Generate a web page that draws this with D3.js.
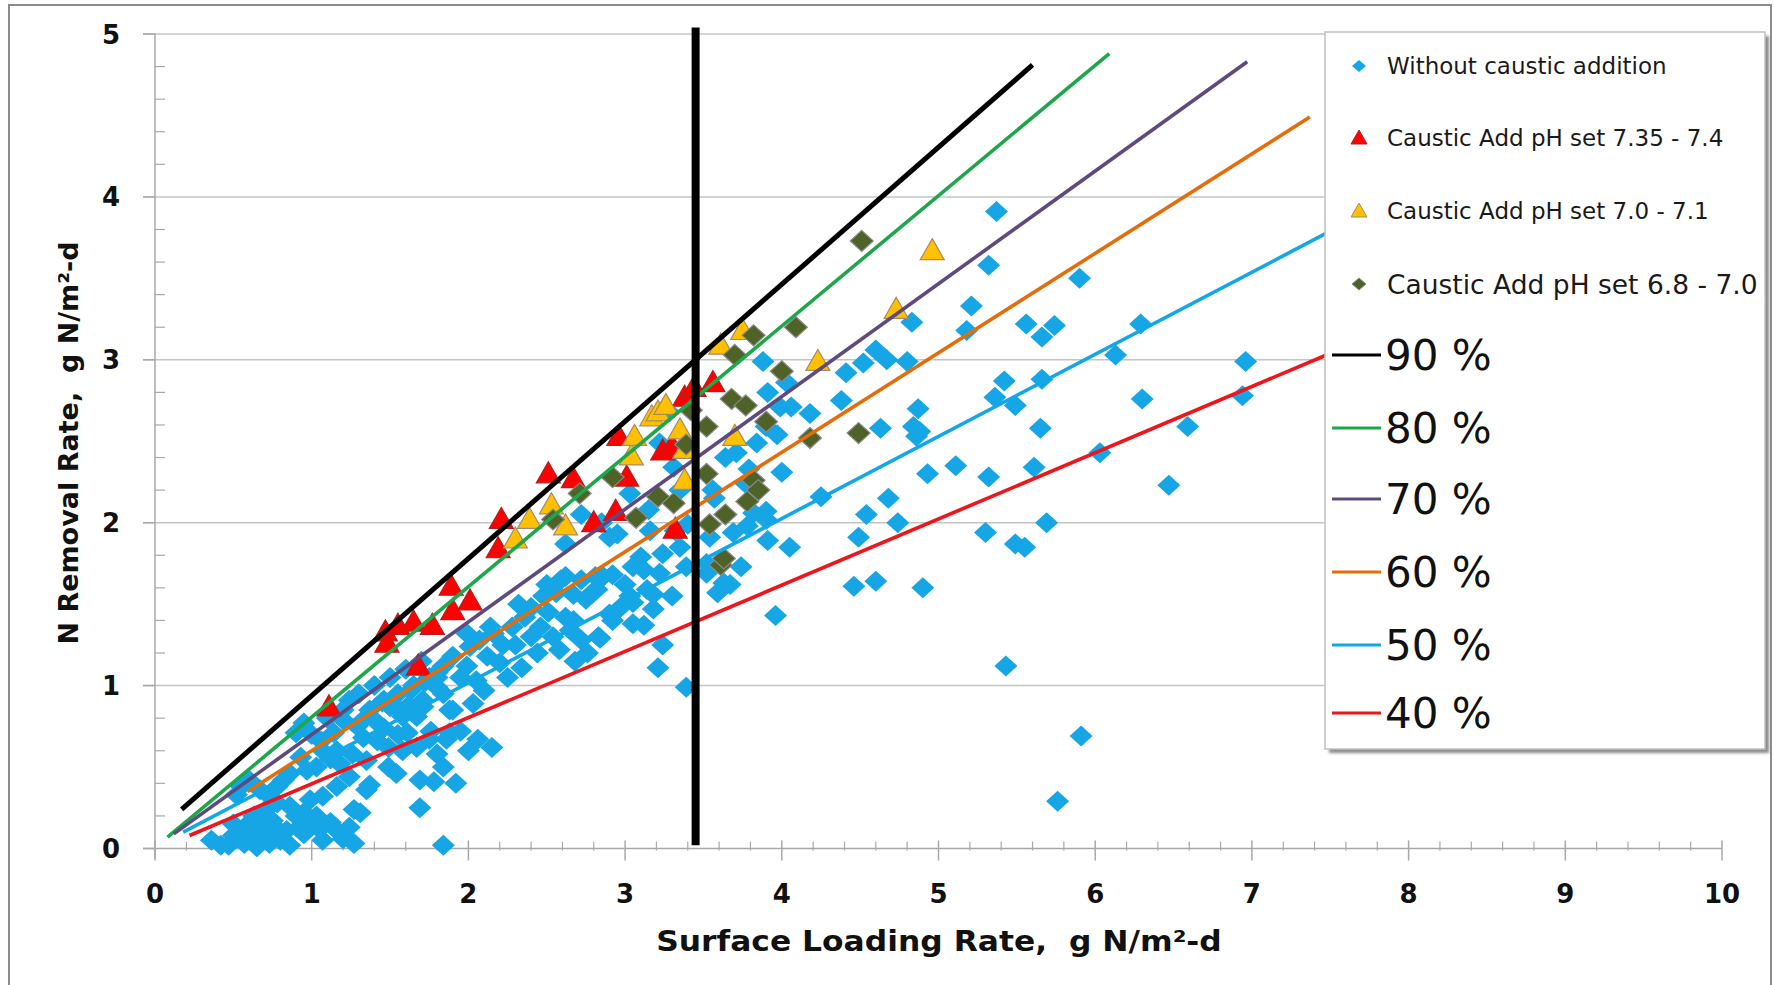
<!DOCTYPE html>
<meta charset="utf-8">
<head>
<style>
body { margin: 0; background: #fff; }
.grid line { stroke: #c4c4c4; stroke-width: 1.5px; }
.tick-label { font-family: "DejaVu Sans", Verdana, sans-serif; font-weight: bold; font-size: 26px; fill: #111; }
.axis-title { font-family: "DejaVu Sans", Verdana, sans-serif; font-weight: bold; fill: #111; white-space: pre; }
.leg-small { font-family: "DejaVu Sans", Verdana, sans-serif; fill: #1a1a1a; }
.leg-big { font-family: "DejaVu Sans", Verdana, sans-serif; font-size: 42px; fill: #111; }
</style>
<script src="https://d3js.org/d3.v7.min.js"></script>
<title>N removal vs surface loading</title>
</head>
<body>
<script>

// ---- data ----
var xTicks = [0, 1, 2, 3, 4, 5, 6, 7, 8, 9, 10];
var yTicks = [0, 1, 2, 3, 4, 5];

var xTitle = "Surface Loading Rate,  g N/m\u00b2-d";
var yTitle = "N Removal Rate,  g N/m\u00b2-d";

// Without caustic addition
var blueData = [
  [0.36,0.05],[0.42,0.02],[0.47,0.02],[0.50,0.08],[0.54,0.07],[0.57,0.03],[0.61,0.11],[0.63,0.04],[0.65,0.01],[0.68,0.07],
  [0.71,0.09],[0.73,0.03],[0.75,0.17],[0.78,0.12],[0.80,0.05],[0.84,0.11],[0.86,0.02],[0.90,0.20],[0.92,0.13],[0.95,0.09],
  [0.98,0.16],[1.03,0.20],[1.05,0.12],[1.07,0.05],[1.12,0.16],[1.16,0.11],[1.20,0.06],[1.24,0.13],[1.27,0.03],[1.31,0.22],
  [1.27,0.24],[0.50,0.15],[0.58,0.14],[0.63,0.20],[0.67,0.16],[0.71,0.24],[0.78,0.28],[0.86,0.26],[0.95,0.22],[0.99,0.30],
  [1.07,0.32],[1.16,0.38],[1.24,0.44],[1.35,0.36],[1.37,0.39],[0.52,0.33],[0.55,0.38],[0.60,0.42],[0.67,0.36],[0.73,0.32],
  [0.78,0.38],[0.82,0.42],[0.86,0.46],[0.93,0.56],[0.97,0.48],[1.03,0.50],[1.07,0.60],[1.12,0.55],[1.18,0.52],[0.90,0.71],
  [0.95,0.77],[1.00,0.70],[1.06,0.66],[1.14,0.71],[1.20,0.79],[1.24,0.91],[1.29,0.75],[1.33,0.68],[1.37,0.85],[1.41,0.78],
  [1.46,0.91],[1.49,0.62],[1.49,0.50],[1.35,0.54],[1.54,0.46],[1.56,0.85],[1.61,0.71],[1.67,0.62],[1.67,0.81],[1.69,0.42],
  [1.69,0.25],[1.71,0.91],[1.78,0.41],[1.80,0.58],[1.80,0.99],[1.84,0.50],[1.84,1.12],[1.84,0.02],[1.86,0.67],[1.92,0.40],
  [1.76,0.72],[1.72,1.02],[1.16,0.60],[1.33,0.79],[1.46,0.74],[1.58,0.81],[1.71,0.87],[1.84,0.95],[1.80,1.05],[1.63,0.97],
  [1.50,0.87],[1.88,0.85],[1.88,0.71],[1.75,0.67],[1.58,0.60],[1.30,0.95],[1.40,1.00],[1.50,1.05],[1.60,1.10],[1.70,1.15],
  [1.45,0.90],[1.55,0.95],[1.65,1.00],[1.75,1.05],[1.20,0.85],[1.10,0.80],[1.26,0.58],[1.42,0.66],[1.55,0.70],[1.62,0.88],
  [1.90,1.18],[1.99,1.12],[2.01,1.24],[2.07,1.28],[2.16,1.32],[2.12,1.18],[2.20,1.14],[1.99,1.32],[2.14,1.36],[1.80,1.08],
  [1.95,1.05],[2.05,1.03],[2.03,0.89],[2.06,0.67],[2.15,0.62],[2.00,0.60],[1.95,0.72],[1.90,0.85],[2.10,0.97],[2.25,1.05],
  [2.34,1.11],[2.30,1.25],[2.40,1.30],[2.46,1.36],[2.51,1.45],[2.54,1.30],[2.56,1.57],[2.59,1.65],[2.62,1.42],[2.67,1.40],
  [2.72,1.28],[2.72,1.65],[2.75,1.53],[2.81,1.67],[2.83,1.30],[2.86,1.67],[2.90,1.91],[2.92,1.68],[2.95,1.93],[2.97,1.48],
  [3.03,1.55],[3.05,1.38],[3.05,1.73],[3.10,1.79],[3.12,1.71],[3.12,1.37],[3.14,1.59],[3.22,1.69],[3.21,1.11],[3.24,1.25],
  [3.24,1.81],[3.35,1.85],[3.39,1.73],[3.39,0.99],[2.62,1.67],[2.62,1.87],[2.79,1.57],[2.72,2.05],[3.03,2.18],[3.15,2.08],
  [3.31,2.34],[3.35,2.20],[3.40,1.99],[3.22,2.49],[3.28,2.68],[2.48,1.55],[2.40,1.48],[2.44,1.20],[2.28,1.36],[2.36,1.42],
  [2.58,1.22],[2.68,1.15],[2.76,1.20],[2.92,1.40],[3.00,1.62],[3.18,1.47],[3.30,1.55],[3.32,1.95],[3.16,1.95],[2.85,2.00],
  [2.67,1.56],[2.82,1.59],[2.84,1.29],[2.90,1.44],[3.05,1.51],[3.18,1.56],[2.65,1.34],[2.22,1.25],[2.32,1.50],[2.50,1.62],
  [3.52,1.69],[3.52,1.75],[3.54,1.91],[3.59,1.57],[3.63,1.63],[3.67,1.62],[3.64,2.40],[3.69,1.94],[3.71,2.43],[3.74,1.73],
  [3.78,1.98],[3.79,2.33],[3.77,2.24],[3.82,2.06],[3.90,2.07],[3.84,2.49],[3.88,2.99],[3.90,2.02],[3.90,2.59],[3.91,1.89],
  [3.91,2.80],[3.96,1.43],[3.97,2.54],[4.00,2.31],[3.99,2.71],[4.03,2.86],[4.05,1.85],[4.06,2.71],[4.18,2.67],[4.25,2.16],
  [3.56,2.20],[3.57,2.15],
  [4.38,2.75],[4.41,2.92],[4.52,2.98],[4.60,3.06],[4.67,3.00],[4.80,2.99],[4.83,3.23],[4.63,2.58],[4.86,2.53],[4.87,2.70],
  [4.84,2.59],[4.88,2.56],[4.93,2.30],[4.49,1.91],[4.54,2.05],[4.68,2.15],[4.74,2.00],[4.46,1.61],[4.60,1.64],[4.90,1.60],
  [5.37,3.91],[5.32,3.58],[5.21,3.33],[5.90,3.50],[5.18,3.18],[5.56,3.22],[5.66,3.14],[5.74,3.21],[6.29,3.22],[6.13,3.03],
  [6.96,2.99],[5.42,2.87],[5.66,2.88],[5.36,2.77],[5.49,2.72],[6.30,2.76],[6.94,2.78],[5.65,2.58],[6.59,2.59],[6.03,2.43],
  [5.11,2.35],[5.32,2.28],[5.61,2.34],[6.47,2.23],[5.30,1.94],[5.49,1.87],[5.55,1.85],[5.69,2.00],[5.43,1.12],[5.91,0.69],
  [5.76,0.29]
];

// Caustic Add pH set 7.35 - 7.4
var redData = [
  [1.11,0.87],[1.47,1.33],[1.48,1.26],[1.55,1.37],[1.65,1.39],[1.68,1.12],[1.77,1.37],[1.89,1.61],[1.90,1.46],[2.01,1.52],
  [2.19,1.84],[2.21,2.02],[2.51,2.30],[2.67,2.27],[2.80,2.00],[2.94,2.07],[2.96,2.53],[3.01,2.28],[3.24,2.44],[3.30,2.47],
  [3.32,1.96],[3.38,2.77],[3.44,2.83],[3.56,2.86]
];

// Caustic Add pH set 7.0 - 7.1
var yellowData = [
  [2.30,1.90],[2.39,2.02],[2.53,2.11],[2.62,1.98],[3.04,2.41],[3.06,2.53],[3.17,2.65],[3.21,2.68],[3.26,2.72],[3.35,2.57],
  [3.38,2.45],[3.38,2.26],[3.61,3.09],[3.75,3.18],[3.70,2.53],[4.23,2.99],[4.73,3.31],[4.96,3.67]
];

// Caustic Add pH set 6.8 - 7.0
var oliveData = [
  [2.54,2.02],[2.71,2.18],[2.92,2.28],[3.07,2.03],[3.21,2.16],[3.31,2.12],[3.39,2.48],[3.42,2.69],[3.52,2.59],[3.52,2.30],
  [3.54,1.99],[3.61,1.74],[3.63,1.78],[3.64,2.05],[3.68,2.76],[3.70,3.03],[3.77,2.72],[3.78,2.13],[3.82,2.26],[3.82,3.15],
  [3.85,2.20],[3.90,2.62],[4.00,2.93],[4.09,3.20],[4.18,2.52],[4.49,2.55],[4.51,3.73]
];

// removal-efficiency lines, start and end points
var lineNames = ["90 %", "80 %", "70 %", "60 %", "50 %", "40 %"];
var lineColors = ["#000000", "#1ea64b", "#5f4a7d", "#e46c0a", "#14a7e6", "#f0141b"];
var lineWidths = [5, 3.6, 3.6, 3.6, 3.6, 3.6];
var lineStart = [[0.17,0.24],[0.08,0.07],[0.12,0.09],[0.59,0.35],[0.18,0.10],[0.22,0.08]];
var lineEnd   = [[5.60,4.81],[6.09,4.88],[6.97,4.83],[7.37,4.49],[7.60,3.84],[7.60,3.08]];

// thick vertical marker line
var vLineX = 3.45;
var vLineY = [0.02, 5.04];

var seriesNames = ["Without caustic addition", "Caustic Add pH set 7.35 - 7.4",
                   "Caustic Add pH set 7.0 - 7.1", "Caustic Add pH set 6.8 - 7.0"];

// ---- layout ----
var W = 1774, H = 985;
var x = d3.scaleLinear().domain([0, 10]).range([155, 1722]);
var y = d3.scaleLinear().domain([0, 5]).range([848.5, 34]);

var svg = d3.select("body").append("svg")
    .attr("width", W).attr("height", H);

// outer frame
svg.append("rect")
    .attr("x", 9).attr("y", 5).attr("width", 1762).attr("height", 990)
    .attr("fill", "#fff").attr("stroke", "#8c8c8c").attr("stroke-width", 2);

// horizontal gridlines
svg.append("g").attr("class", "grid")
  .selectAll("line").data(yTicks.slice(1)).enter().append("line")
    .attr("x1", 143).attr("x2", x(10))
    .attr("y1", d => y(d)).attr("y2", d => y(d));

// axes
var axisColor = "#a8a8a8";
svg.append("line")
    .attr("x1", x(0)).attr("x2", x(0)).attr("y1", y(0) + 10).attr("y2", y(5))
    .attr("stroke", axisColor).attr("stroke-width", 1.5);
svg.append("line")
    .attr("x1", 143).attr("x2", x(10)).attr("y1", y(0)).attr("y2", y(0))
    .attr("stroke", axisColor).attr("stroke-width", 1.5);

// y ticks
svg.append("g").selectAll("line").data(yTicks).enter().append("line")
    .attr("x1", 143).attr("x2", x(0))
    .attr("y1", d => y(d)).attr("y2", d => y(d))
    .attr("stroke", axisColor).attr("stroke-width", 1.5);
var yMinor = d3.range(0, 25).map(i => i * 0.2).filter(v => Math.abs(v - Math.round(v)) > 0.01);
svg.append("g").selectAll("line").data(yMinor).enter().append("line")
    .attr("x1", x(0)).attr("x2", x(0) + 10)
    .attr("y1", d => y(d)).attr("y2", d => y(d))
    .attr("stroke", axisColor).attr("stroke-width", 1.2);

// x ticks
svg.append("g").selectAll("line").data(xTicks).enter().append("line")
    .attr("x1", d => x(d)).attr("x2", d => x(d))
    .attr("y1", y(0) - 8).attr("y2", y(0) + 12)
    .attr("stroke", axisColor).attr("stroke-width", 1.5);
var xMinor = d3.range(0, 50).map(i => i * 0.2).filter(v => Math.abs(v - Math.round(v)) > 0.01);
svg.append("g").selectAll("line").data(xMinor).enter().append("line")
    .attr("x1", d => x(d)).attr("x2", d => x(d))
    .attr("y1", y(0) - 7).attr("y2", y(0) + 2)
    .attr("stroke", axisColor).attr("stroke-width", 1.2);

// tick labels
svg.append("g").selectAll("text").data(xTicks).enter().append("text")
    .attr("class", "tick-label")
    .attr("x", d => x(d)).attr("y", 903)
    .attr("text-anchor", "middle")
    .text(d => d);
svg.append("g").selectAll("text").data(yTicks).enter().append("text")
    .attr("class", "tick-label")
    .attr("x", 120).attr("y", d => y(d) + 9.5)
    .attr("text-anchor", "end")
    .text(d => d);

// axis titles
svg.append("text")
    .attr("class", "axis-title")
    .attr("transform", "translate(939,951) scale(1.12,1)")
    .attr("text-anchor", "middle")
    .style("font-size", "28px")
    .text(xTitle);
svg.append("text")
    .attr("class", "axis-title")
    .attr("transform", "translate(78,443) rotate(-90)")
    .attr("text-anchor", "middle")
    .style("font-size", "27px")
    .text(yTitle);

// marker shapes
var diamond = "M0,-10.5L11.5,0L0,10.5L-11.5,0Z";
var triangle = "M0,-12L12,9L-12,9Z";

function drawPoints(data, path, fill, stroke) {
  svg.append("g").selectAll("path").data(data).enter().append("path")
      .attr("d", path)
      .attr("transform", d => "translate(" + x(d[0]) + "," + y(d[1]) + ")")
      .attr("fill", fill)
      .attr("stroke", stroke)
      .attr("stroke-width", stroke == "none" ? 0 : 1.2);
}

drawPoints(blueData, diamond, "#16a5e5", "none");
drawPoints(redData, triangle, "#ff0000", "#b02020");
drawPoints(yellowData, triangle, "#ffc000", "#a88a6a");
drawPoints(oliveData, diamond, "#4f6228", "#8a8a8a");

// efficiency lines
svg.append("g").selectAll("line").data(lineNames).enter().append("line")
    .attr("x1", (d, i) => x(lineStart[i][0])).attr("y1", (d, i) => y(lineStart[i][1]))
    .attr("x2", (d, i) => x(lineEnd[i][0])).attr("y2", (d, i) => y(lineEnd[i][1]))
    .attr("stroke", (d, i) => lineColors[i])
    .attr("stroke-width", (d, i) => lineWidths[i]);

// vertical black line
svg.append("line")
    .attr("x1", x(vLineX)).attr("x2", x(vLineX))
    .attr("y1", y(vLineY[0])).attr("y2", y(vLineY[1]))
    .attr("stroke", "#000").attr("stroke-width", 8);

// ---- legend ----
var defs = svg.append("defs");
defs.append("filter").attr("id", "shadow")
  .append("feGaussianBlur").attr("stdDeviation", 1.5);

var leg = svg.append("g");
leg.append("rect")
    .attr("x", 1329).attr("y", 36).attr("width", 440).attr("height", 717)
    .attr("fill", "#8a8a8a").attr("filter", "url(#shadow)");
leg.append("rect")
    .attr("x", 1325).attr("y", 32).attr("width", 440).attr("height", 717)
    .attr("fill", "#fff").attr("stroke", "#c0c0c0").attr("stroke-width", 1.5);

var legMarkY = [66, 138, 211, 284];
var legFont = [23, 23, 23, 26.5];
var legShapes = [
  {d: "M0,-6L7,0L0,6L-7,0Z", fill: "#16a5e5", stroke: "none"},
  {d: "M0,-8L8,6L-8,6Z", fill: "#ff0000", stroke: "#b02020"},
  {d: "M0,-8L8,6L-8,6Z", fill: "#ffc000", stroke: "#a88a6a"},
  {d: "M0,-6L7,0L0,6L-7,0Z", fill: "#4f6228", stroke: "#8a8a8a"}
];
leg.selectAll("path.mk").data(seriesNames).enter().append("path")
    .attr("class", "mk")
    .attr("d", (d, i) => legShapes[i].d)
    .attr("transform", (d, i) => "translate(1359," + legMarkY[i] + ")")
    .attr("fill", (d, i) => legShapes[i].fill)
    .attr("stroke", (d, i) => legShapes[i].stroke)
    .attr("stroke-width", 1);
leg.selectAll("text.sm").data(seriesNames).enter().append("text")
    .attr("class", "leg-small")
    .attr("x", 1387).attr("y", (d, i) => legMarkY[i] + legFont[i] * 0.36)
    .style("font-size", (d, i) => legFont[i] + "px")
    .text(d => d);

var legLineY = [355, 428, 499, 572, 645, 713];
leg.selectAll("line.ll").data(lineNames).enter().append("line")
    .attr("x1", 1332).attr("x2", 1381)
    .attr("y1", (d, i) => legLineY[i]).attr("y2", (d, i) => legLineY[i])
    .attr("stroke", (d, i) => lineColors[i]).attr("stroke-width", 3);
leg.selectAll("text.big").data(lineNames).enter().append("text")
    .attr("class", "leg-big")
    .attr("x", 1385).attr("y", (d, i) => legLineY[i] + 15)
    .text(d => d);

</script>
</body>
</html>
